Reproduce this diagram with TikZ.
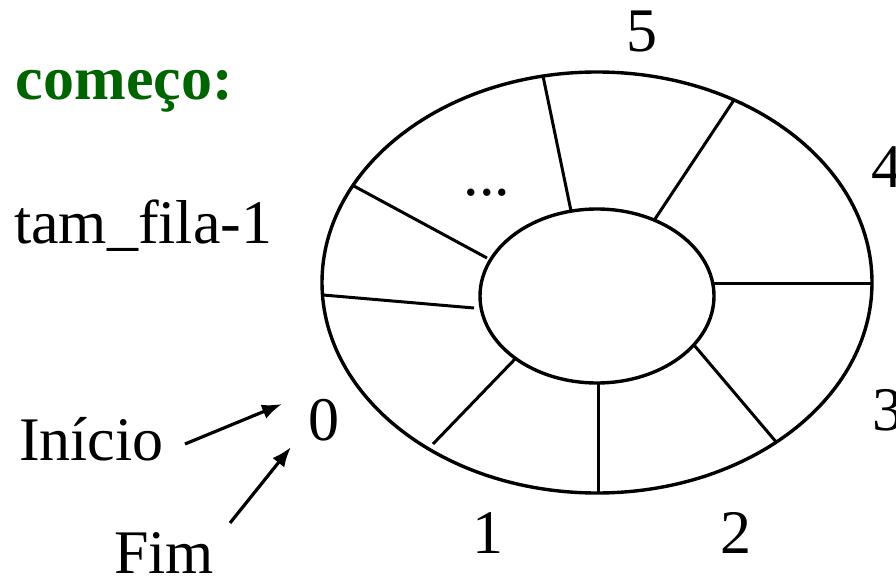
\documentclass[tikz,border=0pt]{standalone}
\usepackage{fontspec}
\setmainfont{Liberation Serif}
\usetikzlibrary{arrows.meta}
\definecolor{titlegreen}{RGB}{0,100,0}
\begin{document}
\begin{tikzpicture}[x=1pt,y=-1pt,
  every node/.style={inner sep=0pt,outer sep=0pt,font=\fontsize{62}{74}\selectfont},
  ring/.style={line width=3.4pt},
  spoke/.style={line width=3pt},
  ptr/.style={line width=3.2pt,-{Latex[length=20pt,width=15pt]}},
  lbl/.style={anchor=base west},
  num/.style={anchor=base}]
\useasboundingbox (0,0) rectangle (896,580);
% ellipses
\draw[ring] (597,282.5) ellipse [x radius=275, y radius=210.5];
\draw[ring] (597,296) ellipse [x radius=117, y radius=87];
% spokes
\draw[spoke] (543,76) -- (571,211);
\draw[spoke] (734,100) -- (655,219);
\draw[spoke] (873,283) -- (714,283);
\draw[spoke] (777,443) -- (694,345);
\draw[spoke] (598,493) -- (598,383);
\draw[spoke] (433,444) -- (516,358);
\draw[spoke] (323,295) -- (474,308);
\draw[spoke] (352,185) -- (487,258);
% labels
\node[num] (n5) at (642,52) {5};
\node[num] (n4) at (887,188) {4};
\node[num] (n3) at (888,430) {3};
\node[num] (n2) at (736,553) {2};
\node[num] (n1) at (488,553) {1};
\node[num] (n0) at (324,440) {0};
\node[num] (dots) at (487,195) {...};
\node[lbl,text=titlegreen,font=\fontsize{62}{74}\selectfont\bfseries] (comeco) at (16,100) {começo:};
\node[lbl] (tam) at (14,243) {tam\_fila-1};
\node[lbl] (inicio) at (19,460) {Início};
\node[lbl] (fim) at (114,573) {Fim};
% arrows
\coordinate (a1s) at (185,444);
\coordinate (a1e) at (282,404);
\coordinate (a2s) at (230,523);
\coordinate (a2e) at (291,447);
\draw[ptr] (a1s) -- (a1e);
\draw[ptr] (a2s) -- (a2e);
\end{tikzpicture}
\end{document}
